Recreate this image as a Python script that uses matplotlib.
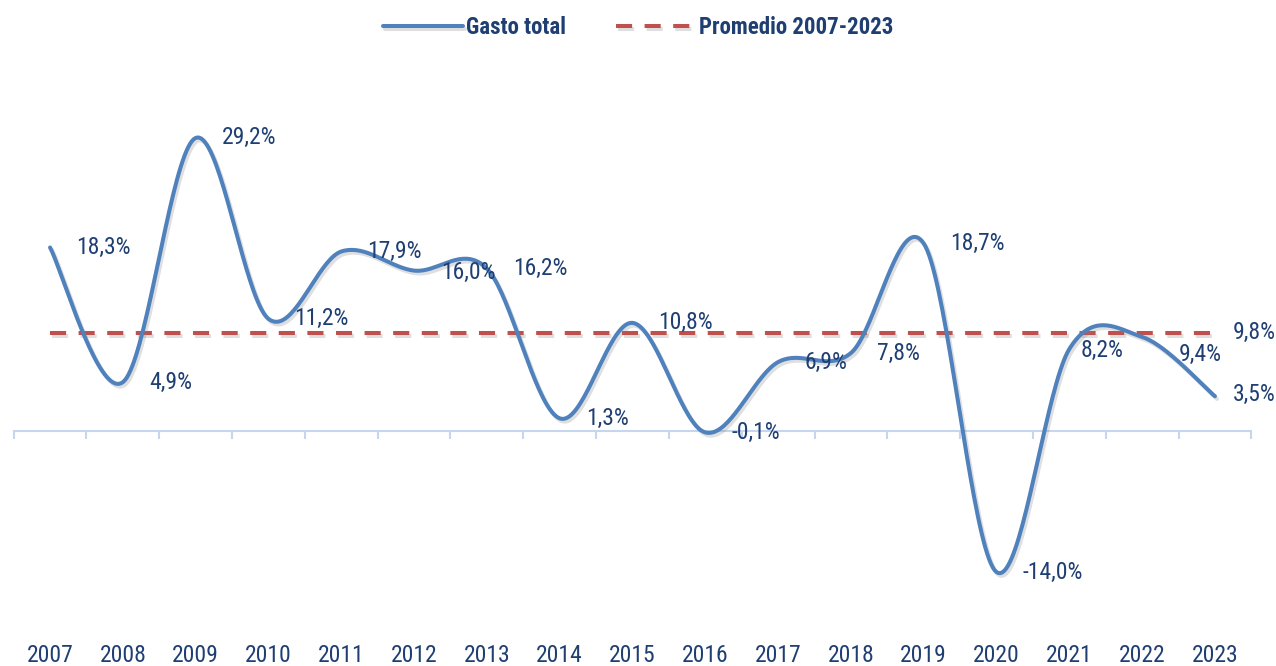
import numpy as np
import matplotlib
matplotlib.use("Agg")
import matplotlib.pyplot as plt
import matplotlib.patheffects as pe
from matplotlib import font_manager
from matplotlib.transforms import blended_transform_factory

# data
years = [2007, 2008, 2009, 2010, 2011, 2012, 2013, 2014, 2015,
         2016, 2017, 2018, 2019, 2020, 2021, 2022, 2023]
gasto = [18.3, 4.9, 29.2, 11.2, 17.9, 16.0, 16.2, 1.3, 10.8,
         -0.1, 6.9, 7.8, 18.7, -14.0, 8.2, 9.4, 3.5]
promedio = 9.8
series_names = ["Gasto total", "Promedio 2007-2023"]


# look for a narrow font, otherwise shrink regular one
def pick_font():
    for fam in ["Liberation Sans Narrow", "Roboto Condensed", "Noto Sans Condensed",
                "Open Sans Condensed", "DejaVu Sans Condensed"]:
        try:
            font_manager.findfont(fam, fallback_to_default=False)
            return fam, "normal", 1.0
        except Exception:
            pass
    for fam in ["Noto Sans", "Roboto", "DejaVu Sans"]:
        fp = font_manager.FontProperties(family=fam, stretch="condensed")
        try:
            f = font_manager.findfont(fp, fallback_to_default=False)
            if "ondensed" in f:
                return fam, "condensed", 1.0
        except Exception:
            pass
    return "Liberation Sans", "normal", 0.85


FONT, STRETCH, K = pick_font()
plt.rcParams["font.family"] = [FONT, "DejaVu Sans"]
plt.rcParams["font.stretch"] = STRETCH

BLUE = "#4f81bd"
RED = "#c0504d"
NAVY = "#1f3f73"
AXIS = "#c6d6ee"


def smooth(xs, ys, n=40):
    # Excel-style smoothed line: cubic bezier, control points from neighbours
    p = np.column_stack([xs, ys]).astype(float)
    out = []
    t = np.linspace(0, 1, n)[:, None]
    for i in range(len(p) - 1):
        p0 = p[max(i - 1, 0)]
        p1 = p[i]
        p2 = p[i + 1]
        p3 = p[min(i + 2, len(p) - 1)]
        c1 = p1 + (p2 - p0) / 6
        c2 = p2 - (p3 - p1) / 6
        seg = ((1 - t) ** 3) * p1 + 3 * ((1 - t) ** 2) * t * c1 + 3 * (1 - t) * t ** 2 * c2 + t ** 3 * p2
        out.append(seg if i == 0 else seg[1:])
    out = np.vstack(out)
    return out[:, 0], out[:, 1]


fig = plt.figure(figsize=(12.76, 6.66), dpi=100)
ax = fig.add_axes([0.0107, 0.0806, 0.970, 0.830])

x = np.arange(len(years))
sx, sy = smooth(x, gasto)

shadow = [pe.SimpleLineShadow(offset=(1.5, -2), shadow_color="#808080", alpha=0.25), pe.Normal()]

ax.plot(sx, sy, color=BLUE, lw=2.9, solid_capstyle="round", label=series_names[0],
        path_effects=shadow, zorder=3)
ax.plot([x[0], x[-1]], [promedio, promedio], color=RED, lw=2.9, dashes=(4, 3.1),
        label=series_names[1], path_effects=shadow, zorder=2)

# value labels (offsets in pixels)
offsets = {5: (27, -2), 14: (11, -1), 15: (37, -18), 16: (18, 2)}
for i, v in enumerate(gasto):
    dx, dy = offsets.get(i, (26, 0))
    ax.annotate(f"{v:.1f}%".replace(".", ","), (x[i], v), xytext=(dx, dy),
                textcoords="offset pixels", ha="left", va="center",
                fontsize=17 * K, color=NAVY, zorder=4)
ax.annotate(f"{promedio:.1f}%".replace(".", ","), (x[-1], promedio), xytext=(18, 0),
            textcoords="offset pixels", ha="left", va="center",
            fontsize=17 * K, color=NAVY, zorder=4)

# axes
ax.set_xlim(-0.5, len(years) - 0.5)
ax.set_ylim(-18, 37)
for s in ["top", "right", "left"]:
    ax.spines[s].set_visible(False)
ax.spines["bottom"].set_position(("data", 0))
ax.spines["bottom"].set_color(AXIS)
ax.spines["bottom"].set_linewidth(1.5)
ax.set_yticks([])
ax.set_xticks(np.arange(-0.5, len(years), 1.0))
ax.set_xticklabels([])
ax.tick_params(axis="x", direction="out", length=6, width=1.5, color=AXIS)

tr = blended_transform_factory(ax.transData, fig.transFigure)
for i, yr in enumerate(years):
    ax.text(x[i], 0.016, str(yr), transform=tr, ha="center", va="center",
            fontsize=17 * K, color=NAVY)

leg = fig.legend(loc="center", bbox_to_anchor=(0.5, 0.958), ncol=2, frameon=False,
                 handlelength=3.5 / K, handletextpad=0.1, columnspacing=2.2 / K,
                 prop={"size": 16.5 * K, "weight": "bold"})
for t in leg.get_texts():
    t.set_color(NAVY)

fig.savefig("out.png", dpi=100)
